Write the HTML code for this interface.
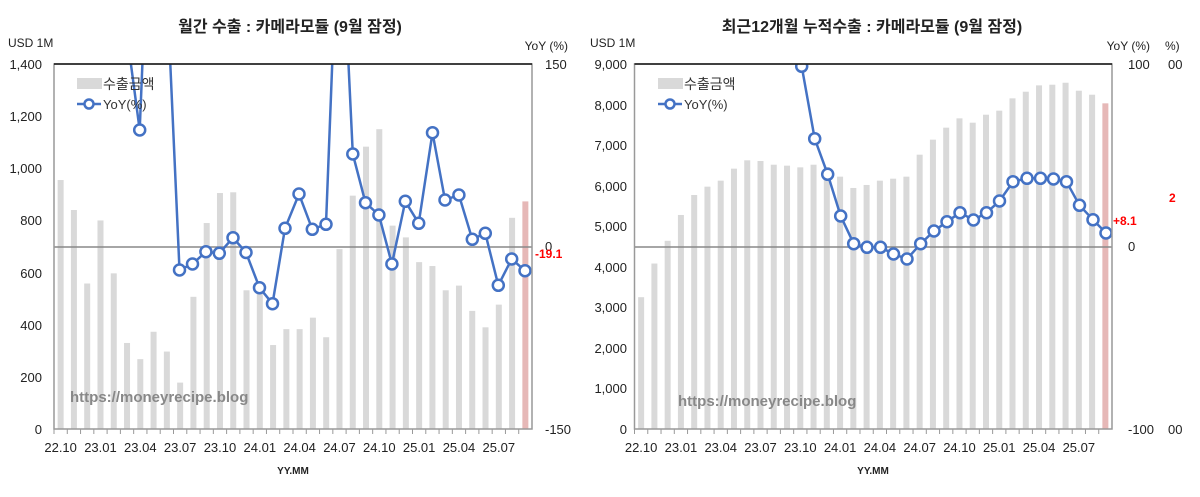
<!DOCTYPE html><html><head><meta charset="utf-8"><style>body{margin:0;background:#fff}svg{display:block}text{font-family:"Liberation Sans","Noto Sans CJK KR",sans-serif}</style></head><body>
<svg width="1200" height="497" viewBox="0 0 1200 497">
<defs><clipPath id="c1"><rect x="54" y="64" width="478" height="365"/></clipPath><clipPath id="c2"><rect x="634.5" y="64" width="477.5" height="365"/></clipPath></defs>
<g id="L">
<text x="290" y="32" font-size="16" font-weight="bold" text-anchor="middle" fill="#222">월간 수출 : 카메라모듈 (9월 잠정)</text>
<text x="8" y="47" font-size="12" fill="#222">USD 1M</text>
<text x="568" y="50" font-size="12" fill="#222" text-anchor="end">YoY (%)</text>
<g font-size="13" fill="#222" text-anchor="end">
<text x="42" y="69">1,400</text><text x="42" y="121">1,200</text><text x="42" y="173">1,000</text><text x="42" y="225">800</text><text x="42" y="278">600</text><text x="42" y="330">400</text><text x="42" y="382">200</text><text x="42" y="434">0</text></g>
<g font-size="13" fill="#222"><text x="545" y="69">150</text><text x="545" y="434">-150</text><text x="545" y="251">0</text></g>
<g fill="#d9d9d9" id="lb"></g>
<line x1="54" y1="247" x2="532" y2="247" stroke="#888" stroke-width="1.5"/>
<g clip-path="url(#c1)"><polyline id="ll" fill="none" stroke="#4472c4" stroke-width="2.5"/><g id="lc"></g></g>
<rect x="54" y="64" width="478" height="365" fill="none" stroke="#999" stroke-width="1.5"/>
<line x1="54" y1="64" x2="532" y2="64" stroke="#111" stroke-width="1.5"/>
<g id="lt" stroke="#999"></g>
<text x="535" y="258" font-size="12" font-weight="bold" fill="#f00">-19.1</text>
<rect x="77" y="78" width="25" height="11" fill="#d9d9d9"/><text x="103" y="89" font-size="14" fill="#333">수출금액</text>
<line x1="77" y1="104" x2="101" y2="104" stroke="#4472c4" stroke-width="2.5"/><circle cx="89" cy="104" r="4.5" fill="#fff" stroke="#4472c4" stroke-width="2.5"/><text x="103" y="109" font-size="13" fill="#333">YoY(%)</text>
<text x="70" y="402" font-size="15" font-weight="bold" fill="#888">https://moneyrecipe.blog</text>
<g id="lx" font-size="13" fill="#222" text-anchor="middle"></g>
<text x="293" y="474" font-size="10" font-weight="bold" text-anchor="middle" fill="#222">YY.MM</text>
</g>
<g id="R">
<text x="872" y="32" font-size="16" font-weight="bold" text-anchor="middle" fill="#222">최근12개월 누적수출 : 카메라모듈 (9월 잠정)</text>
<text x="590" y="47" font-size="12" fill="#222">USD 1M</text>
<text x="1150" y="50" font-size="12" fill="#222" text-anchor="end">YoY (%)</text>
<text x="1165" y="50" font-size="12" fill="#222">%)</text>
<g font-size="13" fill="#222" text-anchor="end">
<text x="627" y="69">9,000</text><text x="627" y="110">8,000</text><text x="627" y="150">7,000</text><text x="627" y="191">6,000</text><text x="627" y="231">5,000</text><text x="627" y="272">4,000</text><text x="627" y="312">3,000</text><text x="627" y="353">2,000</text><text x="627" y="393">1,000</text><text x="627" y="434">0</text></g>
<g font-size="13" fill="#222"><text x="1128" y="69">100</text><text x="1128" y="251">0</text><text x="1128" y="434">-100</text><text x="1168" y="69">00</text><text x="1168" y="434">00</text></g>
<g fill="#d9d9d9" id="rb"></g>
<line x1="634.5" y1="247" x2="1112" y2="247" stroke="#888" stroke-width="1.5"/>
<g clip-path="url(#c2)"><polyline id="rl" fill="none" stroke="#4472c4" stroke-width="2.5"/><g id="rc"></g></g>
<rect x="634.5" y="64" width="477.5" height="365" fill="none" stroke="#999" stroke-width="1.5"/>
<line x1="634.5" y1="64" x2="1112" y2="64" stroke="#111" stroke-width="1.5"/>
<g id="rt" stroke="#999"></g>
<text x="1113" y="225" font-size="12" font-weight="bold" fill="#f00">+8.1</text>
<text x="1169" y="202" font-size="12" font-weight="bold" fill="#f00">2</text>
<rect x="658" y="78" width="25" height="11" fill="#d9d9d9"/><text x="684" y="89" font-size="14" fill="#333">수출금액</text>
<line x1="658" y1="104" x2="682" y2="104" stroke="#4472c4" stroke-width="2.5"/><circle cx="670" cy="104" r="4.5" fill="#fff" stroke="#4472c4" stroke-width="2.5"/><text x="684" y="109" font-size="13" fill="#333">YoY(%)</text>
<text x="678" y="406" font-size="15" font-weight="bold" fill="#888">https://moneyrecipe.blog</text>
<g id="rx" font-size="13" fill="#222" text-anchor="middle"></g>
<text x="873" y="474" font-size="10" font-weight="bold" text-anchor="middle" fill="#222">YY.MM</text>
</g>
</svg>
<script>
var NS="http://www.w3.org/2000/svg";
function el(p,t,a){var e=document.createElementNS(NS,t);for(var k in a)e.setAttribute(k,a[k]);document.getElementById(p).appendChild(e);return e;}
var lv=[955,840,558,800,597,330,268,373,297,178,507,790,905,908,532,560,322,383,383,427,352,690,895,1083,1150,780,735,640,625,532,550,453,390,477,810,873];
var rv=[3250,4080,4640,5277,5770,5975,6123,6419,6625,6608,6517,6493,6452,6517,6460,6222,5943,6017,6123,6172,6222,6764,7134,7430,7660,7553,7750,7849,8153,8317,8473,8489,8538,8341,8243,8030];
var labs=["22.10","23.01","23.04","23.07","23.10","24.01","24.04","24.07","24.10","25.01","25.04","25.07"];
function chart(p,x0,vals,max){var s=(p=="l"?478:477.5)/36;
for(var i=0;i<36;i++){var cx=x0+s*(i+.5),h=vals[i]/max*365;el(p+"b","rect",{x:cx-3,y:429-h,width:6,height:h,fill:i==35?"#e6b8b7":"#d9d9d9"});
el(p+"t","line",{x1:x0+s*i,y1:429,x2:x0+s*i,y2:434});}
for(var j=0;j<12;j++)el(p+"x","text",{x:x0+s*(3*j+.5),y:452}).textContent=labs[j];}
chart("l",54,lv,1400);chart("r",634.5,rv,9000);
function line(p,pts){document.getElementById(p+"l").setAttribute("points",pts.map(function(a){return a[0]+","+a[1]}).join(" "));
pts.forEach(function(a){if(!a[2])el(p+"c","circle",{cx:a[0],cy:a[1],r:5.5,fill:"#fff",stroke:"#4472c4","stroke-width":2.5});});}
line("l",[[127.7,40,1],[139.7,130],[153.2,-200,1],[166.5,-21,1],[179.5,270],[192.5,264],[205.9,251.7],[219.3,253.3],[233,237.7],[246,252.5],[259.5,287.7],[272.5,303.7],[285,228.3],[299,194],[312.3,229.3],[326,224.3],[339.5,-124,1],[352.8,154],[365.5,202.7],[378.9,215],[391.9,264],[405.3,201.3],[418.7,223.3],[432.5,132.7],[445,200],[458.9,195],[472.3,239.3],[485.3,233.3],[498.3,285.3],[511.7,259],[525,270.7]]);
line("r",[[801.7,66.3],[814.7,138.7],[827.7,174.3],[840.7,216],[853.7,243.7],[867,247.3],[880.5,247.3],[893.5,254],[907,259],[920.7,243.7],[934,231],[947,221.7],[960,212.7],[973.5,220],[986.5,212.7],[999.5,201],[1013,181.7],[1027,178.3],[1040.5,178.3],[1053.5,179],[1066.5,181.7],[1079.5,205.3],[1093,219.7],[1106,233]]);
</script>
</body></html>
